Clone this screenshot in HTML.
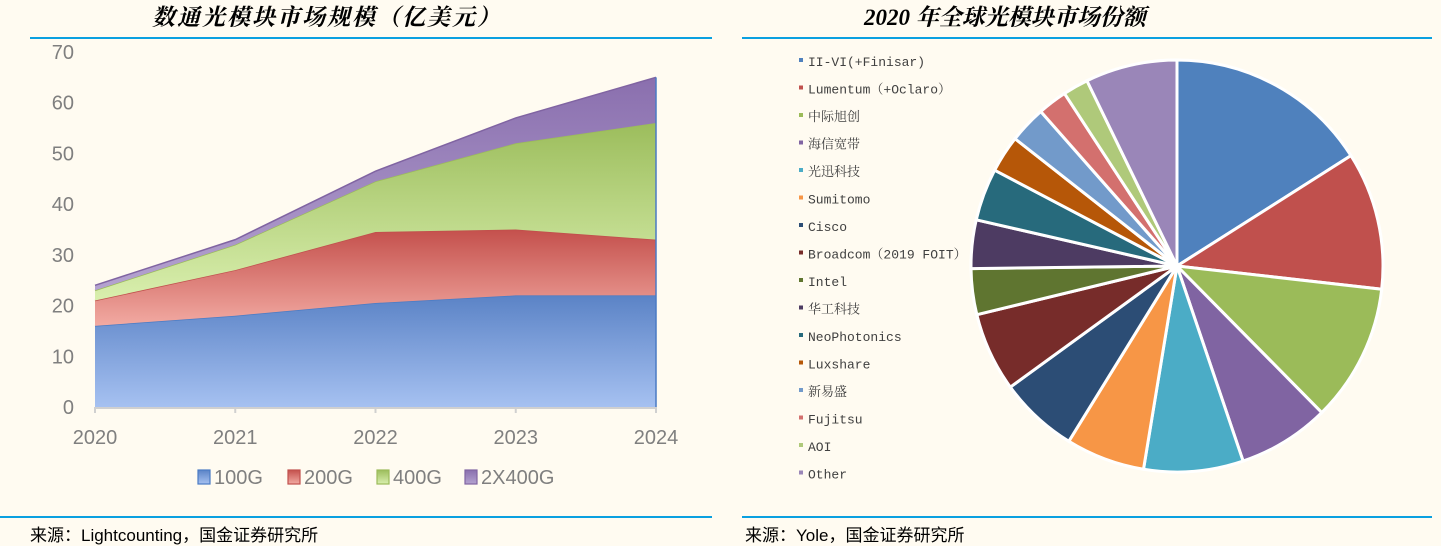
<!DOCTYPE html>
<html><head><meta charset="utf-8"><style>
body{margin:0;width:1441px;height:546px;background:#fffbf1;overflow:hidden;font-family:"Liberation Sans","Noto Sans CJK SC",sans-serif;}
svg{position:absolute;left:0;top:0}
</style></head><body>
<svg width="1441" height="546">
<defs>
<linearGradient id="gB" x1="0" y1="0" x2="0" y2="1"><stop offset="0" stop-color="#5b83c6"/><stop offset="1" stop-color="#a6c1f1"/></linearGradient>
<linearGradient id="gR" x1="0" y1="0" x2="0" y2="1"><stop offset="0" stop-color="#c4504c"/><stop offset="1" stop-color="#f2aaa2"/></linearGradient>
<linearGradient id="gG" x1="0" y1="0" x2="0" y2="1"><stop offset="0" stop-color="#9cbd5c"/><stop offset="1" stop-color="#d9efae"/></linearGradient>
<linearGradient id="gP" x1="0" y1="0" x2="0" y2="1"><stop offset="0" stop-color="#8a6fae"/><stop offset="1" stop-color="#b4a2d0"/></linearGradient>
</defs>
<text x="152" y="25" font-family="'Noto Serif CJK SC',serif" font-style="italic" font-weight="bold" font-size="23" letter-spacing="2" fill="#000">数通光模块市场规模（亿美元）</text>
<text x="864" y="25" font-family="'Liberation Serif','Noto Serif CJK SC',serif" font-style="italic" font-weight="bold" font-size="23" fill="#000">2020 年全球光模块市场份额</text>
<line x1="30" y1="38" x2="712" y2="38" stroke="#0aa0e0" stroke-width="2"/>
<line x1="742" y1="38" x2="1432" y2="38" stroke="#0aa0e0" stroke-width="2"/>
<line x1="0" y1="517" x2="712" y2="517" stroke="#0aa0e0" stroke-width="2"/>
<line x1="742" y1="517" x2="1432" y2="517" stroke="#0aa0e0" stroke-width="2"/>
<text x="30" y="541" font-size="17" fill="#000">来源：Lightcounting，国金证券研究所</text>
<text x="745" y="541" font-size="17" fill="#000">来源：Yole，国金证券研究所</text>
<g id="area"></g>
<g id="pie"></g>
</svg>
<script>
const years=["2020","2021","2022","2023","2024"];
const s100=[16,18,20.5,22,22];
const s200=[5,9,14,13,11];
const s400=[2,5,10,17,23];
const s2x400=[1,1,2,5,9];
const yTicks=[0,10,20,30,40,50,60,70];
const seriesNames=["100G","200G","400G","2X400G"];
const companies=["II-VI(+Finisar)","Lumentum（+Oclaro）","中际旭创","海信宽带","光迅科技","Sumitomo","Cisco","Broadcom（2019 FOIT）","Intel","华工科技","NeoPhotonics","Luxshare","新易盛","Fujitsu","AOI","Other"];
const shares=[16,10.8,10.8,7.2,7.8,6.2,6.2,6.2,3.6,3.8,4.1,2.9,2.9,2.3,2.0,7.2];
const NS="http://www.w3.org/2000/svg";
function mk(t,a,p){const e=document.createElementNS(NS,t);for(const k in a)e.setAttribute(k,a[k]);p.appendChild(e);return e;}
const X0=95,X1=656,Y0=407,Y70=52;
const xs=i=>X0+(X1-X0)*i/(years.length-1);
const ys=v=>Y0-(Y0-Y70)*v/70;
const g=document.getElementById('area');
yTicks.forEach(t=>{const e=mk('text',{x:74,y:ys(t)+7,'text-anchor':'end','font-size':20,fill:'#7f7f7f'},g);e.textContent=t;

});
const series=[s100,s200,s400,s2x400],fills=["url(#gB)","url(#gR)","url(#gG)","url(#gP)"],strokes=["#4a7bc4","#c0504d","#9bbb59","#8064a2"];
let base=years.map(()=>0);
series.forEach((s,k)=>{const top=base.map((b,i)=>b+s[i]);
let d="M"+years.map((_,i)=>xs(i)+","+ys(top[i])).join(" L");
for(let i=years.length-1;i>=0;i--)d+=" L"+xs(i)+","+ys(base[i]);d+="Z";
const p=mk('path',{d:d,fill:fills[k]},g);


const l=mk('polyline',{points:years.map((_,i)=>xs(i)+","+ys(top[i])).join(" "),fill:"none",stroke:strokes[k],'stroke-width':1.5},g);


base=top;});
mk('line',{x1:X1,y1:ys(0),x2:X1,y2:ys(base[4]),stroke:'#4a7bc4','stroke-width':1.5},g);
const ax=mk('line',{x1:X0,y1:Y0+1,x2:X1,y2:Y0+1,stroke:'#d0d0d0','stroke-width':2},g);


years.forEach((y,i)=>{mk('line',{x1:xs(i),y1:Y0,x2:xs(i),y2:Y0+6,stroke:'#d0d0d0','stroke-width':2},g);
const e=mk('text',{x:xs(i),y:444,'text-anchor':'middle','font-size':20,fill:'#7f7f7f'},g);e.textContent=y;

});
const lx=[198,288,377,465];
seriesNames.forEach((n,k)=>{const r=mk('rect',{x:lx[k],y:470,width:12,height:14,fill:fills[k],stroke:strokes[k],'stroke-width':1.2},g);


const t=mk('text',{x:lx[k]+16,y:484,'font-size':20,fill:'#7f7f7f'},g);t.textContent=n;

});
const pg=document.getElementById('pie');
const colors=["#4f81bd","#c0504d","#9bbb59","#8064a2","#4bacc6","#f79646","#2c4d75","#772c2a","#5f7530","#4d3b62","#276a7c","#b65708","#729aca","#d3706e","#afc97a","#9a86b8"];
const cx=1177,cy=266,R=206;
const tot=shares.reduce((a,b)=>a+b,0);let ang=0;
shares.forEach((v,i)=>{const a0=ang,a1=ang+v/tot*2*Math.PI;ang=a1;
const p0=[cx+R*Math.sin(a0),cy-R*Math.cos(a0)],p1=[cx+R*Math.sin(a1),cy-R*Math.cos(a1)];
const p=mk('path',{d:`M${cx},${cy} L${p0[0]},${p0[1]} A${R},${R} 0 ${a1-a0>Math.PI?1:0} 1 ${p1[0]},${p1[1]}Z`,fill:colors[i],stroke:'#fff','stroke-width':3},pg);


const ly=61+i*27.5;
const d=mk('rect',{x:799,y:ly-3,width:4,height:4,fill:colors[i]},pg);


const t=mk('text',{x:808,y:ly+5,'font-size':13,fill:'#404040','font-family':"'Liberation Mono','Noto Serif CJK SC',monospace"},pg);t.textContent=companies[i];

});
</script>
</body></html>
